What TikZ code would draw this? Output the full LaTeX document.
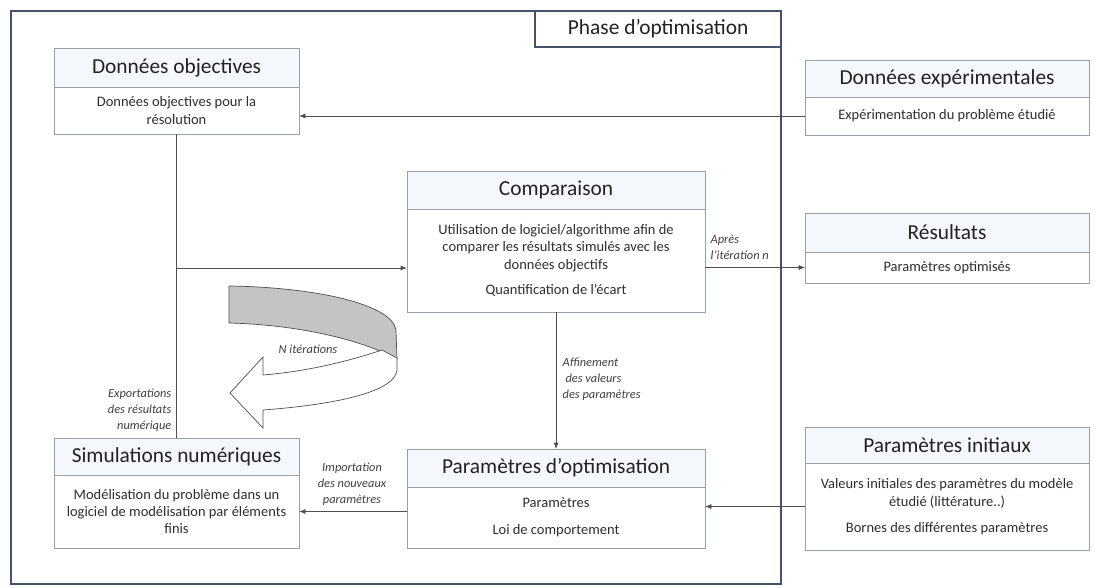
\documentclass[tikz,border=0pt]{standalone}
\usepackage{fontspec}
\setmainfont{Carlito}
\usepackage{tikz}
\usetikzlibrary{arrows.meta, positioning}
\definecolor{framecol}{HTML}{44546A}
\definecolor{boxline}{HTML}{9A9FA5}
\definecolor{headfill}{HTML}{F4F8FC}
\definecolor{linkcol}{HTML}{4F4F4F}
\definecolor{textcol}{HTML}{222222}
\definecolor{bandgray}{HTML}{C4C4C4}

\begin{document}
\begin{tikzpicture}[
    x=0.025cm, y=-0.025cm,
    title/.style={draw=boxline, fill=headfill, line width=0.6pt, inner sep=0pt, outer sep=0pt,
        text=textcol, font=\fontsize{15.2}{18}\selectfont},
    body/.style={draw=boxline, fill=white, line width=0.6pt, inner sep=0pt, outer sep=0pt,
        align=center, text=black!82, font=\fontsize{10.3}{12.4}\selectfont},
    note/.style={font=\fontsize{8.8}{11.3}\selectfont\itshape, text=black!75, inner sep=1pt},
    arrow/.style={-{Latex[length=1.6mm, width=1.3mm]}, line width=0.6pt, draw=linkcol},
    link/.style={line width=0.6pt, draw=linkcol}
]
\useasboundingbox (0,0) rectangle (1094,587);

% Optimisation frame
\node[draw=framecol, line width=1.4pt, minimum width=19.25cm, minimum height=14.325cm,
    anchor=north west, inner sep=0pt, outer sep=0pt] (phase) at (11,11) {};
\node[draw=framecol, line width=1.2pt, fill=white, minimum width=6.15cm, minimum height=0.9cm,
    anchor=north east, outer sep=0pt, text=textcol, font=\fontsize{15.2}{18}\selectfont]
    (phasetab) at (phase.north east) {Phase d’optimisation};

% Left column: Données objectives, Simulations numériques
\node[title, minimum width=6.125cm, minimum height=0.975cm, anchor=north west] (dobj) at (54,48) {Données objectives};
\node[body, minimum width=6.125cm, minimum height=1.175cm, below=0pt of dobj] (dobjtxt)
    {Données objectives pour la\\résolution};
\node[title, minimum width=6.125cm, minimum height=0.925cm, anchor=north west] (sim) at (54,438) {Simulations numériques};
\node[body, minimum width=6.125cm, minimum height=1.825cm, below=0pt of sim] (simtxt)
    {Modélisation du problème dans un\\logiciel de modélisation par éléments\\finis};

% Middle column: Comparaison, Paramètres d'optimisation
\node[title, minimum width=7.45cm, minimum height=0.95cm, anchor=north west] (comp) at (407,171) {Comparaison};
\node[body, minimum width=7.45cm, minimum height=2.575cm, below=0pt of comp] (comptxt)
    {Utilisation de logiciel/algorithme afin de\\comparer les résultats simulés avec les\\données objectifs\\[6pt]Quantification de l’écart};
\node[title, minimum width=7.45cm, minimum height=0.95cm, anchor=north west] (popt) at (407,449) {Paramètres d’optimisation};
\node[body, minimum width=7.45cm, minimum height=1.525cm, below=0pt of popt] (popttxt)
    {Paramètres\\[7pt]Loi de comportement};

% Right column: Données expérimentales, Résultats, Paramètres initiaux
\node[title, minimum width=7.1cm, minimum height=0.925cm, anchor=north west] (dexp) at (805,60) {Données expérimentales};
\node[body, minimum width=7.1cm, minimum height=0.95cm, below=0pt of dexp] (dexptxt)
    {Expérimentation du problème étudié};
\node[title, minimum width=7.1cm, minimum height=0.975cm, anchor=north west] (res) at (805,213) {Résultats};
\node[body, minimum width=7.1cm, minimum height=0.775cm, below=0pt of res] (restxt)
    {Paramètres optimisés};
\node[title, minimum width=7.1cm, minimum height=0.9cm, anchor=north west] (pini) at (805,427) {Paramètres initiaux};
\node[body, minimum width=7.1cm, minimum height=2.175cm, below=0pt of pini] (pinitxt)
    {Valeurs initiales des paramètres du modèle\\étudié (littérature..)\\[6pt]Bornes des différentes paramètres};

% Iteration loop arrow
\draw[draw=linkcol, line width=0.5pt, fill=bandgray]
    (229,286) .. controls (310,287) and (392,303) .. (396,330) -- (397,360)
    .. controls (375,345) and (310,325) .. (229,323) -- cycle;
\draw[draw=linkcol, line width=0.5pt, fill=white]
    (382,350) .. controls (340,364) and (300,372) .. (263,375) -- (263,357) -- (230,393)
    -- (263,428) -- (263,410) .. controls (330,405) and (395,393) .. (397,370) -- (397,358) -- cycle;
\node[note] (niter) at (308,349) {N itérations};

% Connectors
\draw[arrow] (dexptxt.west) -- (dexptxt.west -| dobjtxt.east);
\draw[link] (dobjtxt.south) -- (sim.north);
\coordinate (jn) at (dobjtxt.south |- 0,268);
\draw[arrow] (jn) -- (jn -| comp.west);
\draw[arrow] (restxt.west -| comptxt.east) -- (restxt.west);
\draw[arrow] (comptxt.south) -- (popt.north);
\draw[arrow] (pinitxt.west) -- (pinitxt.west -| popttxt.east);
\draw[arrow] (simtxt.east -| popttxt.west) -- (simtxt.east);

% Connector labels
\node[note, anchor=south west, align=left] (apres) at (709,261) {Après\\l’itération n};
\node[note, anchor=west, align=left] (affin) at (561,379) {Affinement\\\hspace*{2pt}des valeurs\\des paramètres};
\node[note, align=center] (import) at (352,484) {Importation\\des nouveaux\\paramètres};
\node[note, anchor=east, align=right] (export) at (173,410) {Exportations\\des résultats\\numérique};

\end{tikzpicture}
\end{document}
